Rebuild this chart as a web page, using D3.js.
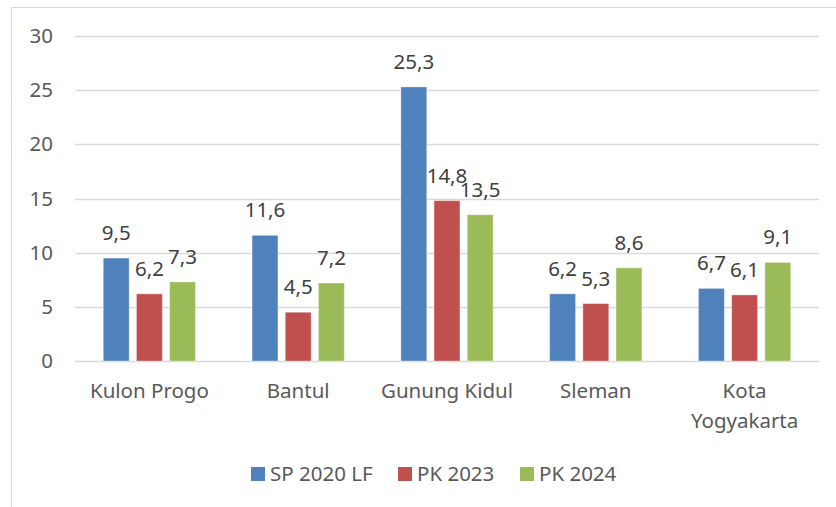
<!DOCTYPE html>
<html>
<head>
<meta charset="utf-8">
<script src="https://cdn.jsdelivr.net/npm/d3@7"></script>
<style>
  body { margin: 0; background: #fff; }
  svg text { font-family: "Noto Sans", sans-serif; }
</style>
</head>
<body>
<div id="chart"></div>
<script>
const categories = ["Kulon Progo", "Bantul", "Gunung Kidul", "Sleman", "Kota Yogyakarta"];
const seriesNames = ["SP 2020 LF", "PK 2023", "PK 2024"];
const sp2020 = [9.5, 11.6, 25.3, 6.2, 6.7];
const pk2023 = [6.2, 4.5, 14.8, 5.3, 6.1];
const pk2024 = [7.3, 7.2, 13.5, 8.6, 9.1];
const yTicks = [0, 5, 10, 15, 20, 25, 30];
const colors = ["#4f81bd", "#c0504d", "#9bbb59"];

const seriesValues = [sp2020, pk2023, pk2024];

const width = 836, height = 507;
const margin = { top: 36, right: 17, bottom: 146, left: 75 };
const innerW = width - margin.left - margin.right;
const innerH = height - margin.top - margin.bottom;
const fontSize = "20.5px";

const svg = d3.select("#chart").append("svg")
    .attr("width", width)
    .attr("height", height);

// chart border
svg.append("rect")
    .attr("x", 11.5).attr("y", 7.5)
    .attr("width", 840).attr("height", 520)
    .attr("fill", "none")
    .attr("stroke", "#d9d9d9");

const g = svg.append("g")
    .attr("transform", "translate(" + margin.left + "," + margin.top + ")");

const x0 = d3.scaleBand()
    .domain(categories)
    .range([0, innerW])
    .paddingInner(0.38)
    .paddingOuter(0.19);

const x1 = d3.scaleBand()
    .domain(seriesNames)
    .range([0, x0.bandwidth()])
    .paddingInner(0.22);

const y = d3.scaleLinear()
    .domain([0, 30])
    .range([innerH, 0]);

// gridlines
g.selectAll(".grid")
    .data(yTicks)
    .enter().append("line")
    .attr("x1", 0).attr("x2", innerW)
    .attr("y1", d => Math.round(y(d)) + 0.5)
    .attr("y2", d => Math.round(y(d)) + 0.5)
    .attr("stroke", "#d9d9d9")
    .attr("stroke-width", 1.3);

// y axis labels
const yAxis = g.append("g")
    .call(d3.axisLeft(y).tickValues(yTicks).tickSize(0).tickPadding(22));
yAxis.select(".domain").remove();
yAxis.selectAll("text")
    .attr("fill", "#595959")
    .style("font-size", fontSize);

// bars
const rows = [];
categories.forEach((c, i) => {
    seriesNames.forEach((s, j) => {
        rows.push({ cat: c, series: s, value: seriesValues[j][i], color: colors[j] });
    });
});

g.selectAll(".bar")
    .data(rows)
    .enter().append("rect")
    .attr("class", "bar")
    .attr("x", d => x0(d.cat) + x1(d.series))
    .attr("width", x1.bandwidth())
    .attr("y", d => y(d.value))
    .attr("height", d => innerH - y(d.value))
    .attr("fill", d => d.color)
    .attr("stroke", "#ffffff")
    .attr("stroke-opacity", 0.35)
    .attr("stroke-width", 1);

// data labels
g.selectAll(".label")
    .data(rows)
    .enter().append("text")
    .attr("class", "label")
    .attr("x", d => x0(d.cat) + x1(d.series) + x1.bandwidth() / 2)
    .attr("y", d => y(d.value) - 18)
    .attr("text-anchor", "middle")
    .attr("fill", "#404040")
    .style("font-size", fontSize)
    .text(d => String(d.value).replace(".", ","));

// x axis labels
const xLabels = g.append("g")
    .attr("transform", "translate(0," + innerH + ")");
categories.forEach(c => {
    const words = c === "Kota Yogyakarta" ? ["Kota", "Yogyakarta"] : [c];
    const t = xLabels.append("text")
        .attr("x", x0(c) + x0.bandwidth() / 2)
        .attr("y", 37)
        .attr("text-anchor", "middle")
        .attr("fill", "#595959")
        .style("font-size", fontSize);
    words.forEach((w, k) => {
        t.append("tspan")
            .attr("x", x0(c) + x0.bandwidth() / 2)
            .attr("dy", k === 0 ? 0 : 30)
            .text(w);
    });
});

// legend
const legendX = [251, 398, 520];
const legend = svg.append("g");
seriesNames.forEach((s, j) => {
    legend.append("rect")
        .attr("x", legendX[j]).attr("y", 467)
        .attr("width", 14).attr("height", 14)
        .attr("fill", colors[j]);
    legend.append("text")
        .attr("x", legendX[j] + 19).attr("y", 481)
        .attr("fill", "#595959")
        .style("font-size", fontSize)
        .text(s);
});
</script>
</body>
</html>
